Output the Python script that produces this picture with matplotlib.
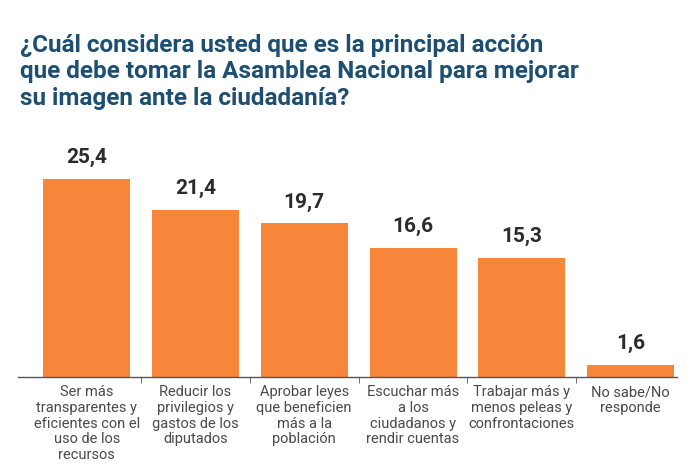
import matplotlib
import matplotlib.pyplot as plt
import numpy as np

# data
categorias = ["Ser más\ntransparentes y\neficientes con el\nuso de los\nrecursos",
              "Reducir los\nprivilegios y\ngastos de los\ndiputados",
              "Aprobar leyes\nque beneficien\nmás a la\npoblación",
              "Escuchar más\na los\nciudadanos y\nrendir cuentas",
              "Trabajar más y\nmenos peleas y\nconfrontaciones",
              "No sabe/No\nresponde"]
valores = [25.4, 21.4, 19.7, 16.6, 15.3, 1.6]
etiquetas = ["25,4", "21,4", "19,7", "16,6", "15,3", "1,6"]

titulo = ("¿Cuál considera usted que es la principal acción\n"
          "que debe tomar la Asamblea Nacional para mejorar\n"
          "su imagen ante la ciudadanía?")

fuente = ['Roboto', 'DejaVu Sans']

fig = plt.figure(figsize=(6.99, 4.66), dpi=100)
ax = fig.add_axes([0.026, 0.191, 0.943, 0.502])

x = np.arange(len(valores))
ax.bar(x, valores, width=0.8, color='#F7863B')

for xi, v, t in zip(x, valores, etiquetas):
    ax.text(xi, v + 1.5, t, ha='center', va='bottom', fontsize=15,
            fontweight='bold', color='#2b2b2b', family=fuente)

ax.set_xlim(-0.63, 5.43)
ax.set_ylim(0, 30)
ax.set_yticks([])
for s in ['top', 'right', 'left']:
    ax.spines[s].set_visible(False)
ax.spines['bottom'].set_color('#555555')
ax.spines['bottom'].set_linewidth(1)

# separadores entre categorias
ax.set_xticks(x[:-1] + 0.5, minor=True)
ax.tick_params(axis='x', which='minor', length=4, color='#555555', direction='out')
ax.set_xticks(x)
ax.set_xticklabels(categorias, fontsize=10.5, color='#4a4a4a', family=fuente,
                   linespacing=1.15, va='top')
ax.tick_params(axis='x', which='major', length=0, pad=6)

fig.text(0.029, 0.928, titulo, ha='left', va='top', fontsize=17.5,
         fontweight='bold', color='#1d4f73', family=fuente, linespacing=1.2)

fig.savefig('out.png', dpi=100)
